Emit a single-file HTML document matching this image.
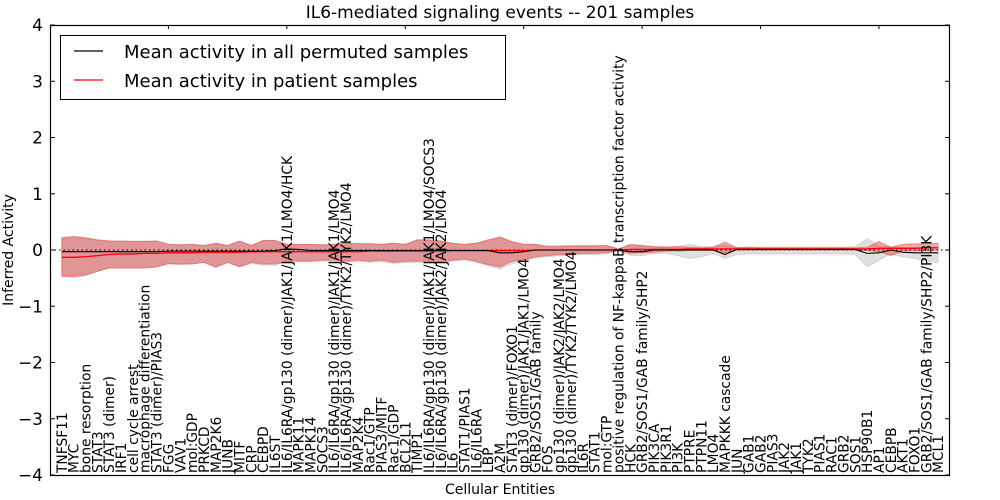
<!DOCTYPE html>
<html><head><meta charset="utf-8"><style>
body{margin:0;background:#fff;}
svg{display:block;font-family:"DejaVu Sans","Liberation Sans",sans-serif;}
</style></head><body>
<svg id="chart" width="1000" height="500">
<text x="500" y="18" font-size="17" text-anchor="middle">IL6-mediated signaling events -- 201 samples</text>
<g id="bands"></g>
<g id="lines"></g>
<g id="axes"></g>
<g id="xlabels"></g>
<text x="500" y="494" font-size="14" text-anchor="middle">Cellular Entities</text>
<text transform="translate(13,250) rotate(-90)" font-size="14" text-anchor="middle">Inferred Activity</text>
<g>
<rect x="60.5" y="35.5" width="445" height="64" fill="#fff" stroke="#000" stroke-width="1"/>
<line x1="74" y1="51" x2="103" y2="51" stroke="#000" stroke-width="1.2"/>
<text x="124" y="58" font-size="18">Mean activity in all permuted samples</text>
<line x1="74" y1="80" x2="103" y2="80" stroke="#f00" stroke-width="1.2"/>
<text x="124" y="87" font-size="18">Mean activity in patient samples</text>
</g>
</svg>
<script>
const categories=["TNFSF11","MYC","bone resorption","STAT3","STAT3 (dimer)","IRF1","cell cycle arrest","macrophage differentiation","STAT3 (dimer)/PIAS3","FGG","VAV1","mol:GDP","PRKCD","MAP2K6","JUNB","MITF","CRP","CEBPD","IL6ST","IL6/IL6RA/gp130 (dimer)/JAK1/JAK1/LMO4/HCK","MAPK11","MAPK14","SOCS3","IL6/IL6RA/gp130 (dimer)/JAK1/JAK1/LMO4","IL6/IL6RA/gp130 (dimer)/TYK2/TYK2/LMO4","MAP2K4","Rac1/GTP","PIAS3/MITF","Rac1/GDP","BCL2L1","TIMP1","IL6/IL6RA/gp130 (dimer)/JAK1/JAK1/LMO4/SOCS3","IL6/IL6RA/gp130 (dimer)/JAK2/JAK2/LMO4","IL6","STAT1/PIAS1","IL6/IL6RA","LBP","A2M","STAT3 (dimer)/FOXO1","gp130 (dimer)/JAK1/JAK1/LMO4","GRB2/SOS1/GAB family","FOS","gp130 (dimer)/JAK2/JAK2/LMO4","gp130 (dimer)/TYK2/TYK2/LMO4","IL6R","STAT1","mol:GTP","positive regulation of NF-kappaB transcription factor activity","HCK","GRB2/SOS1/GAB family/SHP2","PIK3CA","PIK3R1","PI3K","PTPRE","PTPN11","LMO4","MAPKKK cascade","JUN","GAB1","GAB2","PIAS3","JAK2","JAK1","TYK2","PIAS1","RAC1","GRB2","SOS1","HSP90B1","AP1","CEBPB","AKT1","FOXO1","GRB2/SOS1/GAB family/SHP2/PI3K","MCL1"];
const patientMean=[-0.13,-0.13,-0.12,-0.1,-0.08,-0.07,-0.07,-0.06,-0.06,-0.05,-0.05,-0.05,-0.04,-0.04,-0.04,-0.04,-0.03,-0.03,-0.03,-0.03,-0.03,-0.03,-0.03,-0.03,-0.03,-0.03,-0.02,-0.02,-0.02,-0.02,-0.02,-0.02,-0.02,-0.01,-0.01,-0.01,-0.01,-0.01,-0.01,-0.01,0,0,0,0,0,0,0,0,0.01,0.01,0.01,0.01,0.01,0.02,0.02,0.02,0.02,0.02,0.02,0.02,0.02,0.02,0.02,0.02,0.02,0.02,0.02,0.02,0.02,0.03,0.03,0.03,0.03,0.04,0.04];
const patientUpper=[0.22,0.24,0.22,0.18,0.16,0.16,0.15,0.15,0.16,0.1,0.09,0.1,0.08,0.12,0.08,0.16,0.08,0.17,0.17,0.1,0.1,0.1,0.09,0.1,0.12,0.11,0.11,0.1,0.12,0.1,0.18,0.18,0.16,0.12,0.1,0.12,0.18,0.23,0.15,0.1,0.1,0.06,0.06,0.07,0.07,0.07,0.08,0.02,0.1,0.08,0.06,0.05,0.06,0.05,0.04,0.05,0.14,0.04,0.05,0.04,0.04,0.04,0.04,0.04,0.04,0.04,0.04,0.04,0.05,0.15,0.05,0.1,0.11,0.11,0.12];
const patientLower=[-0.47,-0.48,-0.45,-0.38,-0.32,-0.32,-0.32,-0.32,-0.3,-0.24,-0.25,-0.25,-0.22,-0.3,-0.22,-0.3,-0.22,-0.25,-0.25,-0.2,-0.2,-0.2,-0.18,-0.18,-0.2,-0.18,-0.2,-0.18,-0.22,-0.2,-0.2,-0.2,-0.21,-0.18,-0.16,-0.2,-0.26,-0.3,-0.2,-0.18,-0.12,-0.1,-0.08,-0.08,-0.06,-0.06,-0.05,-0.01,-0.06,-0.05,-0.04,-0.02,-0.02,-0.01,-0.01,-0.01,-0.05,0,0,0,0,0,0,0,0,0,0,0,-0.01,-0.03,-0.1,-0.02,-0.01,-0.01,0];
const permutedMean=[-0.03,-0.03,-0.03,-0.03,-0.03,-0.03,-0.03,-0.03,-0.03,-0.02,-0.02,-0.02,-0.02,-0.02,-0.02,-0.02,-0.02,-0.02,-0.01,0.02,0.01,-0.01,-0.01,-0.01,-0.01,-0.01,-0.01,-0.01,-0.01,-0.01,-0.01,-0.01,-0.01,-0.01,-0.01,-0.01,-0.01,-0.05,-0.05,-0.03,0,0,0,0,0,0,0,0,-0.03,-0.03,0,0,0,0,0,0,-0.08,0.01,0.01,0.01,0.01,0.01,0.01,0.01,0.01,0.01,0.01,0.01,-0.06,-0.05,0,-0.04,-0.05,-0.05,-0.05];
const permutedUpper=[0.2,0.22,0.2,0.18,0.16,0.16,0.16,0.16,0.16,0.1,0.1,0.1,0.08,0.12,0.08,0.16,0.08,0.17,0.17,0.1,0.1,0.1,0.1,0.1,0.12,0.11,0.11,0.1,0.12,0.1,0.18,0.18,0.16,0.12,0.1,0.12,0.18,0.23,0.15,0.1,0.1,0.08,0.08,0.08,0.08,0.08,0.08,0.02,0.08,0.08,0.06,0.06,0.06,0.1,0.06,0.06,0.08,0.05,0.05,0.05,0.05,0.05,0.05,0.05,0.05,0.05,0.05,0.06,0.2,0.08,0.05,0.04,0.04,0.04,0.04];
const permutedLower=[-0.45,-0.46,-0.44,-0.38,-0.32,-0.32,-0.32,-0.32,-0.3,-0.25,-0.26,-0.25,-0.22,-0.32,-0.22,-0.3,-0.24,-0.27,-0.27,-0.2,-0.2,-0.2,-0.2,-0.2,-0.22,-0.2,-0.22,-0.2,-0.24,-0.22,-0.22,-0.22,-0.23,-0.2,-0.18,-0.22,-0.28,-0.34,-0.24,-0.2,-0.14,-0.12,-0.1,-0.09,-0.08,-0.08,-0.07,-0.02,-0.1,-0.1,-0.06,-0.06,-0.1,-0.15,-0.12,-0.06,-0.15,-0.08,-0.07,-0.07,-0.07,-0.07,-0.07,-0.07,-0.07,-0.07,-0.07,-0.08,-0.3,-0.18,-0.07,-0.12,-0.15,-0.2,-0.23];
const yTicks=[4,3,2,1,0,-1,-2,-3,-4];

const NS="http://www.w3.org/2000/svg";
const L=50,R=950,T=25,B=475;
const xs=i=>L+(R-L)*(i+1)/(categories.length+1);
const ys=v=>T+(B-T)*(4-v)/8;
function mk(tag,attrs,parent){const e=document.createElementNS(NS,tag);for(const k in attrs)e.setAttribute(k,attrs[k]);parent.appendChild(e);return e;}
const bands=document.getElementById('bands'),lines=document.getElementById('lines'),axes=document.getElementById('axes'),xl=document.getElementById('xlabels');
function band(up,lo,fill,stroke,op){
  let d='M'+up.map((v,i)=>xs(i).toFixed(2)+','+ys(v).toFixed(2)).join('L');
  for(let i=lo.length-1;i>=0;i--)d+='L'+xs(i).toFixed(2)+','+ys(lo[i]).toFixed(2);
  return mk('path',{d:d+'Z',fill:fill,'fill-opacity':op,stroke:stroke,'stroke-opacity':0.5,'stroke-width':1},bands);
}
const gb=band(permutedUpper,permutedLower,'#bbbbbb','#bbbbbb',0.45);


const rb=band(patientUpper,patientLower,'#e03030','#f04040',0.42);


const zl=mk('line',{x1:L,x2:R,y1:ys(0),y2:ys(0),stroke:'#000','stroke-dasharray':'1.5,3','stroke-width':1},lines);


const rl=mk('polyline',{points:patientMean.map((v,i)=>xs(i)+','+ys(v)).join(' '),fill:'none',stroke:'#f00','stroke-width':1.3},lines);


const bl=mk('polyline',{points:permutedMean.map((v,i)=>xs(i)+','+ys(v)).join(' '),fill:'none',stroke:'#000','stroke-width':1.1},lines);


const fr=mk('rect',{x:L+0.5,y:T+0.5,width:R-L-1,height:B-T,fill:'none',stroke:'#000','stroke-width':1.2},axes);


yTicks.forEach(v=>{
  const y=ys(v);
  mk('line',{x1:L,x2:L+5,y1:y,y2:y,stroke:'#000'},axes);
  mk('line',{x1:R-5,x2:R,y1:y,y2:y,stroke:'#000'},axes);
  const t=mk('text',{x:L-7,y:y+6,'font-size':17,'text-anchor':'end'},axes);
  t.textContent=String(v).replace('-','\u2212');
  
  
});
categories.forEach((c,i)=>{
  const x=xs(i);
  if((i+1)%10===0){mk('line',{x1:x,x2:x,y1:T,y2:T+4,stroke:'#000'},axes);}
  const t=mk('text',{transform:'translate('+(x+5)+','+(B-2)+') rotate(-90)','font-size':13.8},xl);
  t.textContent=c;
  
  
});
</script>
</body></html>
